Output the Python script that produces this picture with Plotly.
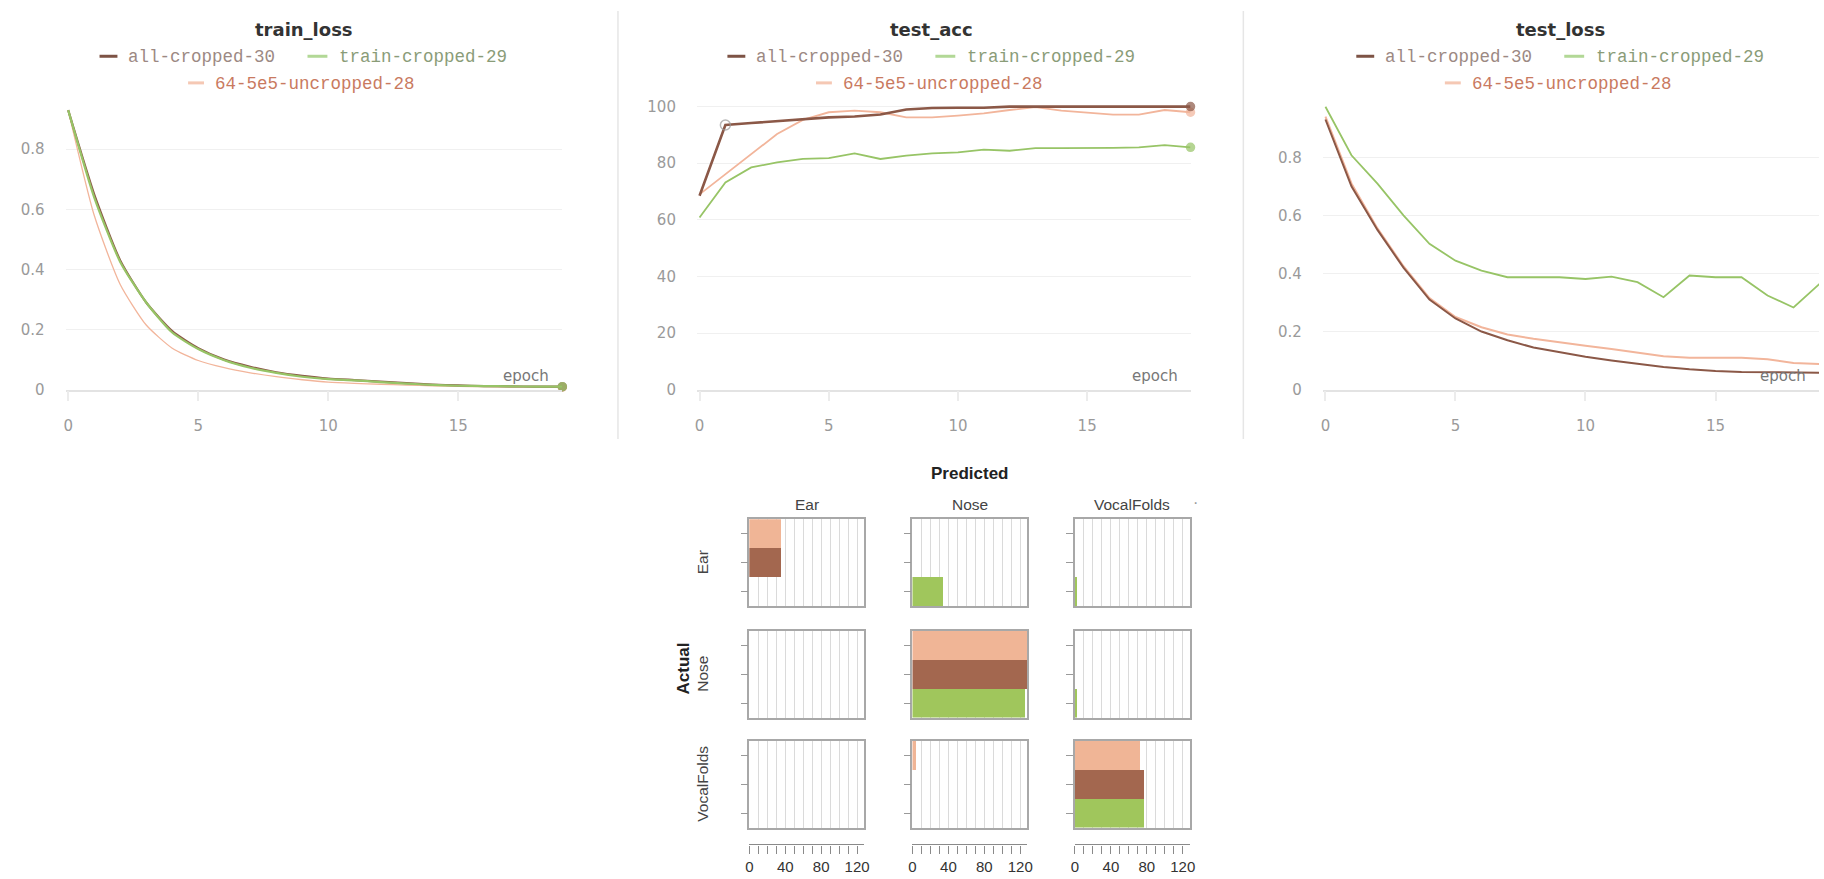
import plotly.graph_objects as go

W, H = 1824, 879

# ---------------- data ----------------
epochs = list(range(20))
run_names = ["all-cropped-30", "train-cropped-29", "64-5e5-uncropped-28"]

train_loss_all = [0.93, 0.65, 0.43, 0.29, 0.195, 0.138, 0.100, 0.076, 0.058, 0.046,
                  0.037, 0.032, 0.027, 0.022, 0.017, 0.014, 0.012, 0.011, 0.010, 0.010]
train_loss_train = [0.93, 0.64, 0.425, 0.29, 0.19, 0.135, 0.098, 0.073, 0.056, 0.043,
                    0.035, 0.031, 0.025, 0.020, 0.016, 0.013, 0.012, 0.011, 0.010, 0.010]
train_loss_unc = [0.93, 0.58, 0.35, 0.215, 0.138, 0.097, 0.073, 0.056, 0.043, 0.033,
                  0.025, 0.021, 0.018, 0.015, 0.013, 0.011, 0.010, 0.009, 0.009, 0.008]

test_acc_all = [68.5, 93.5, 94.2, 94.8, 95.5, 96.2, 96.5, 97.2, 99.0, 99.5,
                99.6, 99.6, 100, 100, 100, 100, 100, 100, 100, 100]
test_acc_train = [60.8, 73.2, 78.5, 80.3, 81.5, 81.8, 83.5, 81.5, 82.7, 83.5,
                  83.8, 84.8, 84.4, 85.3, 85.3, 85.3, 85.4, 85.6, 86.4, 85.6]
test_acc_unc = [69.0, 76.2, 83.3, 90.3, 95.3, 98.0, 98.6, 98.0, 96.2, 96.2,
                96.8, 97.6, 98.8, 99.8, 98.6, 98.0, 97.2, 97.2, 98.8, 98.0]

test_loss_all = [0.93, 0.70, 0.55, 0.42, 0.31, 0.245, 0.20, 0.17, 0.145, 0.128,
                 0.113, 0.100, 0.088, 0.078, 0.070, 0.064, 0.061, 0.060, 0.059, 0.058]
test_loss_train = [0.974, 0.807, 0.709, 0.600, 0.502, 0.444, 0.410, 0.387, 0.387, 0.387,
                   0.381, 0.389, 0.370, 0.318, 0.393, 0.387, 0.387, 0.324, 0.283, 0.364]
test_loss_unc = [0.94, 0.71, 0.555, 0.425, 0.315, 0.25, 0.215, 0.19, 0.175, 0.162,
                 0.151, 0.140, 0.128, 0.115, 0.110, 0.110, 0.110, 0.105, 0.092, 0.088]

classes = ["Ear", "Nose", "VocalFolds"]
cm_all = [[36, 0, 0], [0, 128, 0], [0, 0, 77]]
cm_train = [[0, 34, 2], [0, 126, 2], [0, 0, 77]]
cm_unc = [[36, 0, 0], [0, 128, 0], [0, 5, 72]]

# ---------------- styles ----------------
C_ALL = "#8b5847"
C_TRAIN = "#97c466"
C_UNC = "#f2b59b"
BAR_ALL = "#a3674f"
BAR_TRAIN = "#a0c65c"
BAR_UNC = "#f0b596"
TXT_ALL = "#9c8983"
TXT_TRAIN = "#8a9c78"
TXT_UNC = "#c97a5f"
DASH_ALL = "#7d5345"
DASH_TRAIN = "#b2d896"
DASH_UNC = "#f5c8b4"


def X(p):
    return p / W


def Y(p):
    return 1 - p / H


fig = go.Figure()
annotations = []
shapes = []

panels = [
    dict(title="train_loss", series=[train_loss_unc, train_loss_all, train_loss_train],
         xdom=(61.9, 561.1), xr=(-0.1, 19), ydom=(102.5, 392), yr=(0, 0.95), dtick=0.2,
         center=301, widths=[1.3, 2.2, 2.2]),
    dict(title="test_acc", series=[test_acc_unc, test_acc_all, test_acc_train],
         xdom=(696.4, 1192.4), xr=(-0.1, 19), ydom=(99.3, 392), yr=(0, 102), dtick=20,
         center=932, widths=[1.8, 2.6, 1.8]),
    dict(title="test_loss", series=[test_loss_unc, test_loss_all, test_loss_train],
         xdom=(1325.4, 1824), xr=(-0.1, 18.98), ydom=(103.4, 392), yr=(0, 0.98), dtick=0.2,
         center=1564, widths=[2.0, 2.0, 1.8]),
]
colors = [C_UNC, C_ALL, C_TRAIN]
names = [run_names[2], run_names[0], run_names[1]]

for i, p in enumerate(panels):
    k = i + 1
    xa = "x" if k == 1 else f"x{k}"
    ya = "y" if k == 1 else f"y{k}"
    for j, s in enumerate(p["series"]):
        sizes = [0] * len(epochs)
        sizes[-1] = 8
        symbols = ["circle"] * len(epochs)
        mcolors = [colors[j]] * len(epochs)
        if i == 1 and j == 1:
            sizes[1] = 10
            symbols[1] = "circle-open"
            mcolors[1] = "#9a9a9a"
        fig.add_trace(go.Scatter(
            x=epochs, y=s, name=names[j], mode="lines+markers",
            line=dict(color=colors[j], width=p["widths"][j],
                      shape="spline" if i == 0 else "linear", smoothing=0.6),
            marker=dict(size=sizes, symbol=symbols, color=mcolors,
                        line=dict(width=1.5, color=mcolors)),
            xaxis=xa, yaxis=ya, showlegend=False, cliponaxis=False))
    fig.layout[f"xaxis{k if k > 1 else ''}"] = dict(
        domain=[X(p["xdom"][0]), X(p["xdom"][1])], range=list(p["xr"]), anchor=ya,
        tickvals=[0, 5, 10, 15], ticks="outside", ticklen=10, tickwidth=1.5,
        tickcolor="#ececec", showgrid=False, zeroline=False, showline=True,
        linecolor="#e3e3e3", linewidth=1.5, ticklabelstandoff=12,
        tickfont=dict(family="DejaVu Sans", size=15, color="#9a9a9a"))
    fig.layout[f"yaxis{k if k > 1 else ''}"] = dict(
        domain=[Y(p["ydom"][1]), Y(p["ydom"][0])], range=list(p["yr"]), anchor=xa,
        tick0=0, dtick=p["dtick"], ticks="", showgrid=True, gridcolor="#f0f0f0",
        gridwidth=1, zeroline=False, showline=False, ticklabelstandoff=20,
        tickfont=dict(family="DejaVu Sans", size=15, color="#9a9a9a"))

    c = p["center"]
    annotations.append(dict(text=p["title"], x=X(c), y=Y(27), xref="paper", yref="paper",
                            showarrow=False, xanchor="center", yanchor="middle",
                            font=dict(family="DejaVu Sans", size=18, color="#333333", weight="bold")))
    legend_items = [
        (run_names[0], TXT_ALL, DASH_ALL, c - 205, c - 187, c - 176, 55),
        (run_names[1], TXT_TRAIN, DASH_TRAIN, c + 4, c + 24, c + 36, 55),
        (run_names[2], TXT_UNC, DASH_UNC, c - 116, c - 100, c - 88.5, 82),
    ]
    for (nm, tc, dc, d0, d1, tx, ty) in legend_items:
        shapes.append(dict(type="line", xref="paper", yref="paper", x0=X(d0), x1=X(d1),
                           y0=Y(ty - 1), y1=Y(ty - 1), line=dict(color=dc, width=3)))
        annotations.append(dict(text=nm, x=X(tx - 2), y=Y(ty), xref="paper", yref="paper",
                                showarrow=False, xanchor="left", yanchor="middle",
                                font=dict(family="Liberation Mono", size=17.5, color=tc)))
    annotations.append(dict(text="epoch", x=X(p["xdom"][1] - 11), y=Y(378), xref="paper",
                            yref="paper", showarrow=False, xanchor="right", yanchor="middle",
                            font=dict(family="DejaVu Sans", size=15, color="#777777")))

# panel separators
for sx in (617, 1245.5):
    shapes.append(dict(type="line", xref="paper", yref="paper", x0=X(sx), x1=X(sx),
                       y0=Y(8), y1=Y(442), line=dict(color="#e6e6e6", width=1.5)))

# ---------------- confusion matrix ----------------
col_px = [(749, 864.5), (913, 1028.5), (1076.3, 1191.8)]
row_px = [(523.5, 611.5), (636.5, 724.5), (748.0, 836.0)]
bar_order = [run_names[1], run_names[0], run_names[2]]  # bottom -> top
bar_colors = [BAR_TRAIN, BAR_ALL, BAR_UNC]
CM_MAX = 128

for r in range(3):
    for cidx in range(3):
        k = 4 + r * 3 + cidx
        xa, ya = f"x{k}", f"y{k}"
        fig.add_trace(go.Bar(
            orientation="h", y=bar_order,
            x=[cm_train[r][cidx], cm_all[r][cidx], cm_unc[r][cidx]],
            marker=dict(color=bar_colors, line=dict(width=0)),
            xaxis=xa, yaxis=ya, showlegend=False))
        fig.layout[f"xaxis{k}"] = dict(
            domain=[X(col_px[cidx][0]), X(col_px[cidx][1])], anchor=ya, range=[0, CM_MAX],
            tick0=0, dtick=10, showgrid=True, gridcolor="#dadada", gridwidth=1,
            showticklabels=False, ticks="", zeroline=False, showline=True, mirror=True,
            linecolor="#a8a8a8", linewidth=1.5)
        fig.layout[f"yaxis{k}"] = dict(
            domain=[Y(row_px[r][1]), Y(row_px[r][0])], anchor=xa, type="category",
            categoryorder="array", categoryarray=bar_order, range=[-0.5, 2.5],
            showticklabels=False, ticks="outside", ticklen=7, tickwidth=1.2,
            tickcolor="#9a9a9a", showgrid=False, zeroline=False, showline=True, mirror=True,
            linecolor="#a8a8a8", linewidth=1.5)

# bottom value axes
for cidx in range(3):
    k = 13 + cidx
    xa, ya = f"x{k}", f"y{k}"
    fig.add_trace(go.Scatter(x=[None], y=[None], xaxis=xa, yaxis=ya, showlegend=False,
                             hoverinfo="skip"))
    fig.layout[f"xaxis{k}"] = dict(
        domain=[X(col_px[cidx][0]), X(col_px[cidx][1])], anchor=ya, range=[0, CM_MAX],
        tickmode="linear", tick0=0, dtick=40, ticks="outside", ticklen=8, tickwidth=1.3,
        tickcolor="#8a8a8a", showline=True, linecolor="#8a8a8a", linewidth=1.3,
        showgrid=False, zeroline=False,
        minor=dict(tick0=0, dtick=10, ticks="outside", ticklen=8, tickwidth=1.3,
                   tickcolor="#8a8a8a", showgrid=False),
        tickfont=dict(family="Liberation Sans", size=15, color="#333333"))
    fig.layout[f"yaxis{k}"] = dict(domain=[Y(853), Y(852)], anchor=xa, visible=False)

annotations.append(dict(text="Predicted", x=X(970), y=Y(477), xref="paper", yref="paper",
                        showarrow=False, xanchor="center", yanchor="middle",
                        font=dict(family="Liberation Sans", size=17, color="#222222", weight="bold")))
for cidx, cl in enumerate(classes):
    annotations.append(dict(text=cl, x=X((col_px[cidx][0] + col_px[cidx][1]) / 2), y=Y(508),
                            xref="paper", yref="paper", showarrow=False, xanchor="center",
                            yanchor="middle",
                            font=dict(family="Liberation Sans", size=15.5, color="#444444")))
for r, cl in enumerate(classes):
    annotations.append(dict(text=cl, x=X(702), y=Y((row_px[r][0] + row_px[r][1]) / 2),
                            xref="paper", yref="paper", showarrow=False, textangle=-90,
                            xanchor="center", yanchor="middle",
                            font=dict(family="Liberation Sans", size=15.5, color="#444444")))
annotations.append(dict(text="Actual", x=X(683), y=Y(675), xref="paper", yref="paper",
                        showarrow=False, textangle=-90, xanchor="center", yanchor="middle",
                        font=dict(family="Liberation Sans", size=17, color="#222222", weight="bold")))
annotations.append(dict(text="·", x=X(1197), y=Y(506), xref="paper", yref="paper",
                        showarrow=False, xanchor="center", yanchor="middle",
                        font=dict(family="Liberation Sans", size=16, color="#999999")))

fig.update_layout(
    width=W, height=H, margin=dict(l=0, r=0, t=0, b=0, pad=0),
    paper_bgcolor="white", plot_bgcolor="white", bargap=0,
    annotations=annotations, shapes=shapes, showlegend=False,
)

fig.write_html("out.html", include_plotlyjs=True, full_html=True,
               config={"displayModeBar": False},
               post_script="document.body.style.margin='0';document.body.style.overflow='hidden';")
